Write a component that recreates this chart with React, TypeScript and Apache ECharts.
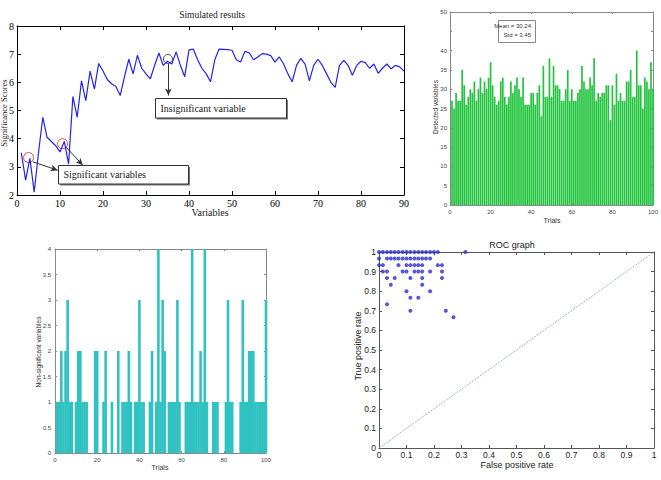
import React, { useEffect, useRef } from 'react';
import * as echarts from 'echarts';

// Panel 1: simulated significance scores for variables 1..90
const scores = [
  3.5, 2.53, 3.3, 2.1, 3.5, 4.76, 4.05, 3.9, 3.75, 3.53,
  3.9, 3.1, 5.5, 4.76, 6.05, 5.35, 6.4, 5.76, 6.67, 6.4,
  6.1, 5.95, 5.85, 5.53, 6.2, 6.82, 6.3, 6.96, 6.5, 6.3,
  6.12, 6.6, 7.04, 6.6, 6.75, 6.65, 7.08, 6.6, 6.2, 7.15,
  7.18, 6.8, 6.5, 6.3, 6.02, 6.8, 7.18, 7.17, 7.16, 7.14,
  6.8, 6.72, 7.1, 7.05, 6.8, 6.9, 7.02, 7.0, 6.95, 6.72,
  6.9, 6.65, 6.3, 6.02, 6.6, 6.85, 6.65, 6.05, 6.6, 6.82,
  6.6, 6.3, 6.0, 5.82, 6.6, 6.78, 6.6, 6.25, 6.6, 6.75,
  6.7, 6.5, 6.65, 6.32, 6.5, 6.65, 6.48, 6.6, 6.55, 6.4,
];
const sigCircles = [[2.7, 3.33], [10.6, 3.82]];
const insigCircle = [[35.1, 6.83]];

// Panel 2: detected variables per trial (1..100)
const detected = [
  27, 25, 29, 27, 27, 35, 31, 26, 28, 30,
  29, 32, 27, 30, 33, 29, 32, 30, 33, 37,
  31, 28, 26, 27, 32, 33, 28, 26, 28, 32,
  29, 31, 33, 30, 28, 33, 26, 26, 26, 29,
  29, 26, 29, 31, 23, 36, 28, 28, 38, 28,
  36, 31, 31, 30, 27, 27, 30, 35, 27, 30,
  27, 27, 29, 30, 36, 32, 30, 30, 33, 31,
  38, 27, 29, 28, 29, 29, 31, 31, 22, 31,
  26, 34, 27, 29, 27, 27, 32, 32, 35, 28,
  28, 40, 31, 31, 25, 33, 32, 30, 37, 30,
];

// Panel 3: non-significant variables per trial (1..100)
const nonSig = [
  1, 1, 2, 1, 2, 3, 1, 1, 0, 1,
  2, 2, 1, 1, 1, 0, 0, 0, 2, 2,
  0, 0, 1, 2, 0, 0, 1, 0, 0, 2,
  0, 1, 1, 1, 2, 1, 0, 1, 1, 3,
  1, 1, 0, 0, 1, 2, 0, 1, 4, 1,
  3, 2, 0, 1, 1, 1, 1, 3, 1, 0,
  0, 1, 1, 1, 4, 1, 1, 1, 2, 1,
  4, 1, 0, 0, 1, 1, 1, 0, 0, 0,
  1, 3, 1, 1, 0, 0, 0, 1, 3, 1,
  1, 2, 2, 2, 1, 1, 1, 1, 1, 3,
];

// Panel 4: ROC points, grouped by true positive rate
const rocTpr = [1.0, 0.967, 0.933, 0.9, 0.867, 0.833, 0.8, 0.767, 0.733, 0.7, 0.667];
const rocFpr = [
  [0, 0.014, 0.029, 0.043, 0.057, 0.071, 0.086, 0.1, 0.114, 0.129, 0.143, 0.157, 0.171, 0.186, 0.2, 0.214, 0.314],
  [0, 0.029, 0.043, 0.057, 0.071, 0.086, 0.1, 0.114, 0.129, 0.143, 0.157, 0.171, 0.186],
  [0, 0.014, 0.071, 0.1, 0.114, 0.129, 0.143, 0.157, 0.214, 0.229],
  [0.014, 0.029, 0.086, 0.1, 0.129, 0.143, 0.157, 0.186, 0.229],
  [0.029, 0.057, 0.114, 0.157, 0.229],
  [0.043, 0.157],
  [0.1, 0.186],
  [0.114, 0.143],
  [0.029],
  [0.114, 0.243],
  [0.271],
];
const diagonal = [[0, 0], [1, 1]];

const SERIF = '"Liberation Serif", "Times New Roman", serif';
const SANS = '"Liberation Sans", Arial, sans-serif';

function axisPair(kind: 'x' | 'y', grid: number, min: number, max: number, interval: number, st: any) {
  const main = {
    type: 'value', gridIndex: grid, min, max, interval,
    position: kind === 'x' ? 'bottom' : 'left',
    splitLine: { show: false },
    axisLine: { show: true, onZero: false, lineStyle: { color: st.line, width: 1 } },
    axisTick: { show: true, inside: true, length: st.tick, lineStyle: { color: st.line } },
    axisLabel: {
      show: true, fontFamily: st.font, fontSize: st.size, color: st.color, margin: kind === 'x' ? st.mx : st.my,
      formatter: st.fmt,
    },
  };
  const mirror = {
    type: 'value', gridIndex: grid, min, max, interval,
    position: kind === 'x' ? 'top' : 'right',
    splitLine: { show: false },
    axisLine: { show: true, onZero: false, lineStyle: { color: st.line, width: 1 } },
    axisTick: { show: true, inside: true, length: st.tick, lineStyle: { color: st.line } },
    axisLabel: { show: false },
  };
  return [main, mirror];
}

function box(x: number, y: number, w: number, h: number, text: string) {
  return [
    { type: 'rect', z: 100, shape: { x: x + 1.5, y: y + 1.5, width: w, height: h }, style: { fill: '#777' } },
    { type: 'rect', z: 101, shape: { x, y, width: w, height: h }, style: { fill: '#fff', stroke: '#333', lineWidth: 1 } },
    {
      type: 'text', z: 102, x: x + 5, y: y + h / 2,
      style: { text, fontFamily: SERIF, fontSize: 10, fill: '#222', verticalAlign: 'middle', align: 'left' },
    },
  ];
}

function label(text: string, x: number, y: number, size: number, family: string, rotate = false, color = '#222') {
  return {
    type: 'text', z: 100, x, y, rotation: rotate ? Math.PI / 2 : 0,
    style: { text, fontFamily: family, fontSize: size, fill: color, align: 'center', verticalAlign: 'middle' },
  };
}

export default function App() {
  const ref = useRef<HTMLDivElement>(null);
  useEffect(() => {
    if (!ref.current) return;
    const chart = echarts.init(ref.current, undefined, { renderer: 'svg' });

    const s1 = { line: '#000', tick: 4, font: SERIF, size: 10, color: '#000', mx: 3, my: 3 };
    const s2 = { line: '#8a8a8a', tick: 2, font: SANS, size: 6, color: '#444', mx: 4, my: 3, fmt: (v: number) => (v === 45 ? '' : String(v)) };
    const s3 = { line: '#8a8a8a', tick: 2, font: SANS, size: 6, color: '#444', mx: 4, my: 4 };
    const s4 = { line: '#555', tick: 3, font: SANS, size: 8.5, color: '#222', mx: 2, my: 3 };

    const xAxis = [
      ...axisPair('x', 0, 0, 90, 10, s1),
      ...axisPair('x', 1, 0, 100, 20, s2),
      ...axisPair('x', 2, 0, 100, 20, s3),
      ...axisPair('x', 3, 0, 1, 0.1, s4),
    ];
    const yAxis = [
      ...axisPair('y', 0, 2, 8, 1, s1),
      ...axisPair('y', 1, 0, 50, 5, s2),
      ...axisPair('y', 2, 0, 4, 0.5, s3),
      ...axisPair('y', 3, 0, 1, 0.1, s4),
    ];

    const rocData: number[][] = [];
    rocTpr.forEach((t, i) => rocFpr[i].forEach((f) => rocData.push([f, t])));

    const option: any = {
      animation: false,
      backgroundColor: '#ffffff',
      grid: [
        { left: 17, top: 26, width: 387, height: 169 },
        { left: 450, top: 12, width: 205, height: 193 },
        { left: 55, top: 249, width: 211, height: 204 },
        { left: 379, top: 252, width: 275, height: 196 },
      ],
      xAxis,
      yAxis,
      series: [
        {
          type: 'line', xAxisIndex: 0, yAxisIndex: 0, showSymbol: false, silent: true,
          data: scores.map((v, i) => [i + 1, v]),
          lineStyle: { color: '#2323f0', width: 1.2 },
          markLine: {
            silent: true, symbol: ['none', 'arrow'], symbolSize: [5, 7],
            lineStyle: { color: '#333', width: 1, type: 'solid' },
            label: { show: false },
            emphasis: { disabled: true },
            data: [
              [{ coord: [3.65, 3.18] }, { coord: [9.46, 2.88] }],
              [{ coord: [11.4, 3.7] }, { coord: [15.3, 3.06] }],
              [{ coord: [35.2, 6.65] }, { coord: [35.2, 5.53] }],
            ],
          },
        },
        {
          type: 'scatter', xAxisIndex: 0, yAxisIndex: 0, silent: true, symbol: 'circle', symbolSize: 10,
          data: sigCircles,
          itemStyle: { color: 'rgba(0,0,0,0)', borderColor: '#e52222', borderWidth: 1 },
        },
        {
          type: 'scatter', xAxisIndex: 0, yAxisIndex: 0, silent: true, symbol: 'circle', symbolSize: 9,
          data: insigCircle,
          itemStyle: { color: 'rgba(0,0,0,0)', borderColor: '#222', borderWidth: 1 },
        },
        {
          type: 'bar', xAxisIndex: 2, yAxisIndex: 2, silent: true, barWidth: 1.7,
          data: detected.map((v, i) => [i + 1, v]),
          itemStyle: { color: '#22c43e' },
        },
        {
          type: 'bar', xAxisIndex: 4, yAxisIndex: 4, silent: true, barWidth: 2.6,
          data: nonSig.map((v, i) => [i + 1, v]),
          itemStyle: { color: '#30c2c2' },
        },
        {
          type: 'line', xAxisIndex: 6, yAxisIndex: 6, silent: true, showSymbol: false,
          data: diagonal,
          lineStyle: { color: '#8096dc', width: 1, type: 'dotted' },
        },
        {
          type: 'scatter', xAxisIndex: 6, yAxisIndex: 6, silent: true, symbol: 'circle', symbolSize: 4,
          data: rocData,
          itemStyle: { color: '#2c2cd0' },
        },
      ],
      graphic: [
        label('Simulated results', 212, 15, 9.5, SERIF),
        label('Variables', 210, 212, 10, SERIF),
        label('Significance Scores', 4, 113, 8.5, SERIF, true),
        ...box(155.5, 98.5, 131, 19.5, 'Insignificant variable'),
        ...box(58.5, 165.5, 130, 18.5, 'Significant variables'),

        { type: 'rect', z: 100, shape: { x: 498.5, y: 20.5, width: 37, height: 22 }, style: { fill: '#fff', stroke: '#888', lineWidth: 1 } },
        { type: 'text', z: 101, x: 531, y: 26, style: { text: 'Mean = 30.24', fontFamily: SANS, fontSize: 6, fill: '#333', align: 'right', verticalAlign: 'middle' } },
        { type: 'text', z: 101, x: 531, y: 35, style: { text: 'Std = 3.45', fontFamily: SANS, fontSize: 6, fill: '#333', align: 'right', verticalAlign: 'middle' } },
        label('Detected variables', 435, 107, 6.5, SANS, true, '#333'),
        label('Trials', 552, 220, 7, SANS, false, '#333'),

        label('Non-significant variables', 38, 352, 6.5, SANS, true, '#333'),
        label('Trials', 160, 467, 7, SANS, false, '#333'),

        label('ROC graph', 512, 245, 9, SANS),
        label('False positive rate', 517, 465, 9, SANS),
        label('True positive rate', 358, 346, 9, SANS, true),
      ],
    };
    chart.setOption(option);
    return () => chart.dispose();
  }, []);
  return <div ref={ref} style={{ position: 'absolute', left: 0, top: 0, width: 661, height: 480 }} />;
}
